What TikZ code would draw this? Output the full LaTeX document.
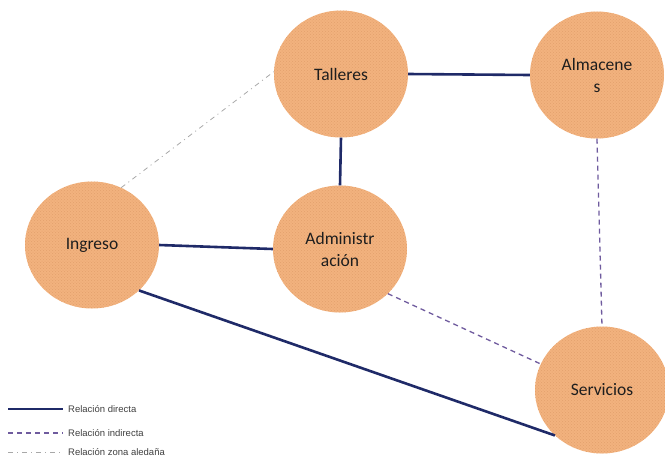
\documentclass[tikz,border=0pt]{standalone}
\usepackage{fontspec}
\setmainfont{Carlito}
\newfontfamily\legendfont{Liberation Sans}
\usetikzlibrary{shapes.geometric,patterns}
\definecolor{peach}{HTML}{F2B27E}
\definecolor{peachdark}{HTML}{E3A06C}
\definecolor{navyline}{HTML}{1F2A68}
\definecolor{purpline}{HTML}{6F5B9E}
\definecolor{grayline}{HTML}{A8A8A8}
\definecolor{txt}{HTML}{1E1E1E}
\tikzset{
  area/.style={ellipse, fill=peach, minimum width=134pt, minimum height=127pt, inner sep=0pt,
    postaction={pattern=crosshatch dots, pattern color=peachdark},
    align=center, font=\fontsize{17.5}{22}\selectfont, text=txt},
  direct/.style={draw=navyline, line width=2.6pt},
  indirect/.style={draw=purpline, line width=1.3pt, dash pattern=on 5pt off 4pt},
  nearby/.style={draw=grayline, line width=0.8pt, dash pattern=on 5pt off 4pt on 1pt off 4pt},
  legtext/.style={anchor=west, font=\legendfont\fontsize{9.5}{11}\selectfont, text=black!75, inner sep=0pt}
}
\begin{document}
\begin{tikzpicture}[x=1pt,y=-1pt]
\useasboundingbox (0,0) rectangle (665,459);
% areas
\node[area] (tal) at (341,74) {Talleres};
\node[area] (alm) at (597,75) {Almacene\\s};
\node[area] (ing) at (92,245) {Ingreso};
\node[area] (adm) at (340,249) {Administr\\ación};
\node[area] (ser) at (602,390) {Servicios};
% connectors
\draw[direct] (tal.east) -- (alm.west);
\draw[direct] (tal.south) -- (adm.north);
\draw[direct] (ing.east) -- (adm.west);
\draw[direct] (ing.-44) -- (ser.224);
\draw[indirect] (adm.-43) -- (ser.157);
\draw[indirect] (alm.south) -- (ser.north);
\draw[nearby] (ing.63) -- (tal.178);
% legend
\coordinate (l1a) at (8,409); \coordinate (l1b) at (63,409);
\coordinate (l2a) at (8,433); \coordinate (l2b) at (63,433);
\coordinate (l3a) at (8,452); \coordinate (l3b) at (63,452);
\draw[direct, line width=2.2pt] (l1a) -- (l1b);
\draw[indirect] (l2a) -- (l2b);
\draw[nearby] (l3a) -- (l3b);
\node[legtext] (t1) at (68,409) {Relación directa};
\node[legtext] (t2) at (68,433) {Relación indirecta};
\node[legtext] (t3) at (68,452) {Relación zona aledaña};
\end{tikzpicture}
\end{document}
